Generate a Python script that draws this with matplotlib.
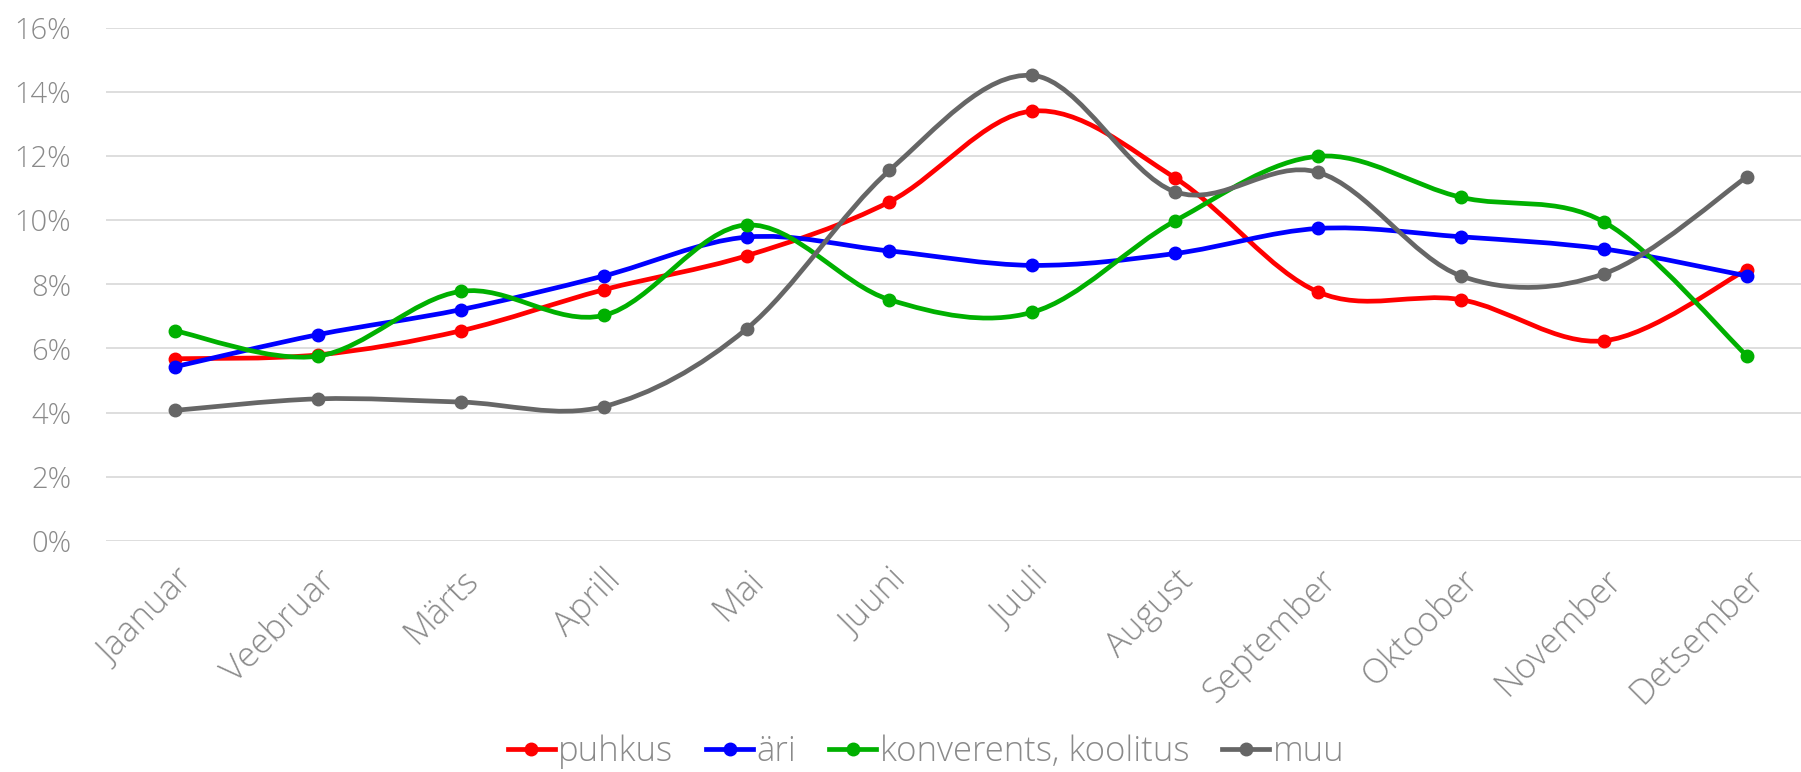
import numpy as np
import matplotlib
matplotlib.use("Agg")
import matplotlib.pyplot as plt
from matplotlib.path import Path
from matplotlib.patches import PathPatch
from matplotlib.lines import Line2D
from matplotlib.ticker import FuncFormatter

months = ["Jaanuar", "Veebruar", "Märts", "Aprill", "Mai", "Juuni", "Juuli",
          "August", "September", "Oktoober", "November", "Detsember"]

puhkus = [5.68, 5.80, 6.55, 7.83, 8.89, 10.57, 13.40, 11.31, 7.76, 7.52, 6.24, 8.46]
ari = [5.43, 6.43, 7.21, 8.26, 9.47, 9.04, 8.59, 8.96, 9.74, 9.48, 9.10, 8.26]
konverents = [6.55, 5.76, 7.78, 7.03, 9.85, 7.52, 7.13, 9.98, 11.99, 10.71, 9.94, 5.77]
muu = [4.07, 4.43, 4.33, 4.19, 6.61, 11.55, 14.51, 10.88, 11.49, 8.26, 8.33, 11.35]

series = [("puhkus", puhkus, "#ff0000"),
          ("äri", ari, "#0000ff"),
          ("konverents, koolitus", konverents, "#00b000"),
          ("muu", muu, "#666666")]

text_color = "#8a8a8a"
plt.rcParams['font.family'] = ['Open Sans', 'DejaVu Sans']
plt.rcParams['font.weight'] = 'light'


def smooth_path(xs, ys):
    # excel style smoothed line: catmull-rom turned into cubic bezier segments
    pts = np.column_stack([xs, ys]).astype(float)
    n = len(pts)
    verts = [pts[0]]
    codes = [Path.MOVETO]
    for i in range(n - 1):
        p0 = pts[i - 1] if i > 0 else pts[i]
        p1 = pts[i]
        p2 = pts[i + 1]
        p3 = pts[i + 2] if i + 2 < n else pts[i + 1]
        c1 = p1 + (p2 - p0) / 6.0
        c2 = p2 - (p3 - p1) / 6.0
        verts += [c1, c2, p2]
        codes += [Path.CURVE4] * 3
    return Path(verts, codes)


fig = plt.figure(figsize=(18.01, 7.72), dpi=100)
W, H = 1801, 772
left, right = 106, 1801
top, bottom = 27.6, 541
ax = fig.add_axes([left / W, (H - bottom) / H, (right - left) / W, (bottom - top) / H])

x = np.arange(len(months))
for i, (name, vals, col) in enumerate(series):
    patch = PathPatch(smooth_path(x, vals), facecolor="none", edgecolor=col,
                      lw=3.4, capstyle="round", joinstyle="round", zorder=3 + i)
    ax.add_patch(patch)
    ax.plot(x, vals, "o", color=col, markersize=9, zorder=3 + i)

ax.set_xlim(-0.482, 11.378)
ax.set_ylim(0, 16)
ax.set_yticks(np.arange(0, 17, 2))
ax.yaxis.set_major_formatter(FuncFormatter(lambda v, p: f"{v:.0f}%"))
ax.grid(axis="y", color="#dedede", lw=1.4)
ax.set_axisbelow(True)
for s in ax.spines.values():
    s.set_visible(False)
ax.tick_params(axis="both", length=0, colors=text_color)
ax.tick_params(axis="y", pad=25, labelsize=21)
ax.tick_params(axis="x", pad=16, labelsize=25)
ax.set_xticks(x)
ax.set_xticklabels(months, rotation=45, ha="right", va="top", rotation_mode="anchor")

handles = [Line2D([0], [0], color=col, lw=3.4, marker="o", markersize=9)
           for _, _, col in series]
leg = fig.legend(handles, [s[0] for s in series], loc="center",
                 bbox_to_anchor=(926 / W, (H - 752) / H), ncol=4, frameon=False,
                 fontsize=25, handlelength=1.35, handletextpad=0.1, columnspacing=0.95)
for t in leg.get_texts():
    t.set_color(text_color)

fig.savefig("out.png", dpi=100)
